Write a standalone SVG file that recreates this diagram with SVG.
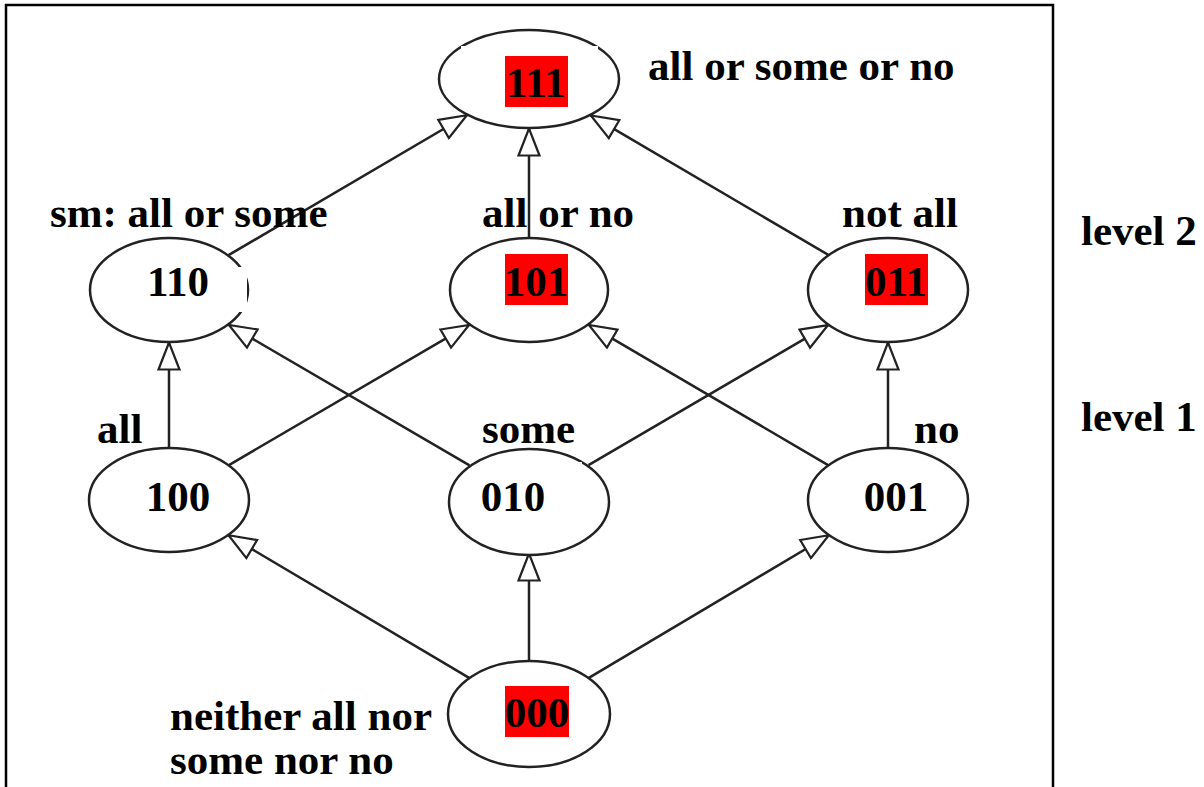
<svg xmlns="http://www.w3.org/2000/svg" width="1204" height="787" viewBox="0 0 1204 787">
<style>
.bg{fill:#ffffff}
.frame{fill:none;stroke:#000;stroke-width:2.5}
.node{fill:#ffffff;stroke:#222;stroke-width:2.5}
.edge{fill:none;stroke:#222;stroke-width:2.5}
.hl{fill:#ff0000}
.mask{fill:#ffffff}
text{font-family:"Liberation Serif","Times New Roman",serif;font-weight:bold;font-size:43px;fill:#000}
.c{text-anchor:middle}
</style>
<defs>
<marker id="tri" viewBox="0 0 30 24" refX="29" refY="12" markerWidth="30" markerHeight="24" markerUnits="userSpaceOnUse" orient="auto">
<path d="M1.5,1.5 L28.5,12 L1.5,22.5 Z" fill="#ffffff" stroke="#222" stroke-width="2.2" stroke-linejoin="miter"/>
</marker>
</defs>
<rect class="bg" x="0" y="0" width="1204" height="787"/>
<rect class="frame" x="6" y="5" width="1047" height="800"/>

<g id="connectors">
<line class="edge" x1="228.5" y1="255.2" x2="467.3" y2="115" marker-end="url(#tri)"/>
<line class="edge" x1="529" y1="238" x2="529" y2="128" marker-end="url(#tri)"/>
<line class="edge" x1="828.7" y1="255.1" x2="590.4" y2="115.2" marker-end="url(#tri)"/>
<line class="edge" x1="169" y1="448" x2="169" y2="342" marker-end="url(#tri)"/>
<line class="edge" x1="228.5" y1="465.3" x2="469.5" y2="324.7" marker-end="url(#tri)"/>
<line class="edge" x1="469.5" y1="465.3" x2="228.5" y2="324.7" marker-end="url(#tri)"/>
<line class="edge" x1="588.5" y1="465.2" x2="828.5" y2="324.8" marker-end="url(#tri)"/>
<line class="edge" x1="828.5" y1="465.3" x2="588.5" y2="324.7" marker-end="url(#tri)"/>
<line class="edge" x1="888" y1="448" x2="888" y2="342" marker-end="url(#tri)"/>
<line class="edge" x1="470" y1="678.4" x2="228.1" y2="535" marker-end="url(#tri)"/>
<line class="edge" x1="529" y1="661" x2="529" y2="553" marker-end="url(#tri)"/>
<line class="edge" x1="588" y1="678.4" x2="829.2" y2="535" marker-end="url(#tri)"/>
</g>

<g id="n111">
<ellipse class="node" cx="529" cy="79" rx="90" ry="49"/>
<rect class="mask" x="461" y="46" width="137" height="58"/>
<rect class="hl" x="505" y="56" width="63" height="51"/>
<text class="c" x="536" y="97">111</text>
<text x="648" y="80">all or some or no</text>
</g>

<g id="n110">
<ellipse class="node" cx="169" cy="290" rx="79" ry="52"/>
<rect class="mask" x="125" y="267" width="122" height="45"/>
<text class="c" x="178" y="296">110</text>
<text x="50" y="227">sm: all or some</text>
</g>

<g id="n101">
<ellipse class="node" cx="529" cy="290" rx="79" ry="52"/>
<rect class="hl" x="505" y="254" width="63" height="51"/>
<text class="c" x="536" y="296">101</text>
<text x="482" y="227">all or no</text>
</g>

<g id="n011">
<ellipse class="node" cx="888" cy="290" rx="80" ry="52"/>
<rect class="hl" x="865" y="254" width="63" height="51"/>
<text class="c" x="896" y="296">011</text>
<text x="842" y="227">not all</text>
</g>

<g id="n100">
<ellipse class="node" cx="169" cy="500" rx="80" ry="52"/>
<text class="c" x="178" y="511">100</text>
<text x="97" y="443">all</text>
</g>

<g id="n010">
<ellipse class="node" cx="529" cy="502" rx="80" ry="53"/>
<rect class="mask" x="492" y="462" width="90" height="66"/>
<text class="c" x="513" y="511">010</text>
<text x="482" y="443">some</text>
</g>

<g id="n001">
<ellipse class="node" cx="888" cy="500" rx="80" ry="52"/>
<text class="c" x="896" y="511">001</text>
<text x="914" y="443">no</text>
</g>

<g id="n000">
<ellipse class="node" cx="529" cy="714" rx="81" ry="53"/>
<rect class="hl" x="505" y="686" width="64" height="51"/>
<text class="c" x="537" y="727">000</text>
<text x="170" y="730">neither all nor</text>
<text x="170" y="774">some nor no</text>
</g>

<g id="levels">
<text x="1081" y="245">level 2</text>
<text x="1081" y="431">level 1</text>
</g>
</svg>
